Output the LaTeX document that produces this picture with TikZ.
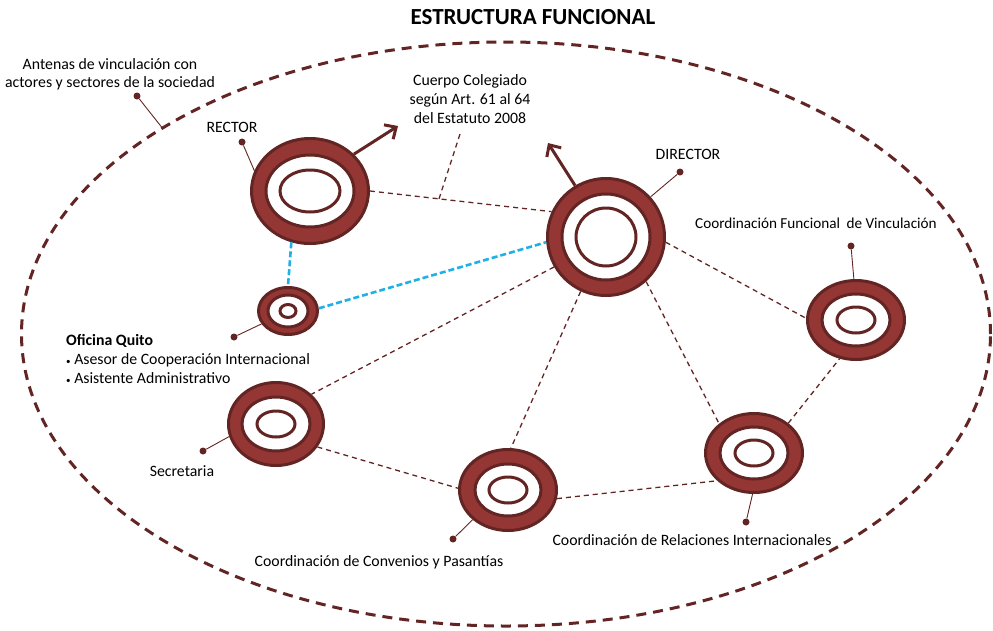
\documentclass[tikz,border=0pt]{standalone}
\usepackage{fontspec}
\setmainfont{Carlito}
\usetikzlibrary{shapes.geometric,arrows.meta}

\definecolor{rojo}{HTML}{943634}
\definecolor{oscuro}{HTML}{632523}
\definecolor{celeste}{HTML}{1FB0E8}

\tikzset{
  anillo/.style={ellipse, draw=oscuro, line width=3pt, fill=rojo, inner sep=0pt},
  blanco/.style={draw=oscuro, line width=3pt, fill=white},
  centro/.style={draw=oscuro, line width=3pt},
  enlace/.style={draw=oscuro, line width=1.3pt, dash pattern=on 5pt off 4pt},
  azul/.style={draw=celeste, line width=2.6pt, dash pattern=on 6pt off 3pt},
  pin/.style={draw=oscuro, line width=0.9pt},
  punto/.style={circle, fill=oscuro, inner sep=0pt, minimum size=7pt},
  etiqueta/.style={font=\fontsize{15.8}{18}\selectfont, inner sep=0pt},
  flecha/.style={draw=oscuro, line width=3pt, -{Straight Barb[length=9pt,width=17pt]}}
}

\begin{document}
\begin{tikzpicture}[x=1pt,y=-1pt]
\useasboundingbox (0,0) rectangle (993,630);

\node[font=\fontsize{23}{25}\selectfont\bfseries] (titulo) at (533,17) {ESTRUCTURA FUNCIONAL};

% entorno
\node[ellipse, draw=oscuro, line width=3pt, dash pattern=on 10pt off 7pt,
      minimum width=969, minimum height=584, inner sep=0pt] (entorno) at (506,334) {};

% anillos
\node[anillo, minimum width=117, minimum height=105] (rector) at (310,191) {};
\draw[blanco] (rector) ellipse [x radius=44, y radius=36];
\draw[centro] (rector) ellipse [x radius=30, y radius=21];

\node[anillo, minimum width=117, minimum height=117] (director) at (606,237) {};
\draw[blanco] (director) ellipse [x radius=44, y radius=43];
\draw[centro] (director) ellipse [x radius=30, y radius=29];

\node[anillo, minimum width=59, minimum height=47] (oficina) at (288,311) {};
\draw[blanco] (oficina) ellipse [x radius=20, y radius=16];
\draw[centro] (oficina) ellipse [x radius=8, y radius=6.5];

\node[anillo, minimum width=95, minimum height=83] (secretaria) at (276,424) {};
\draw[blanco] (secretaria) ellipse [x radius=34, y radius=27];
\draw[centro] (secretaria) ellipse [x radius=19, y radius=13];

\node[anillo, minimum width=97, minimum height=81] (convenios) at (508,490) {};
\draw[blanco] (convenios) ellipse [x radius=33, y radius=26];
\draw[centro] (convenios) ellipse [x radius=19, y radius=13];

\node[anillo, minimum width=97, minimum height=79] (relaciones) at (754,453) {};
\draw[blanco] (relaciones) ellipse [x radius=34, y radius=26];
\draw[centro] (relaciones) ellipse [x radius=19, y radius=13];

\node[anillo, minimum width=97, minimum height=79] (vinculacion) at (856,320) {};
\draw[blanco] (vinculacion) ellipse [x radius=34, y radius=26];
\draw[centro] (vinculacion) ellipse [x radius=19, y radius=13];

% enlaces
\draw[enlace] (rector.0) -- (director.155) coordinate[pos=0.38] (junta);
\coordinate (cuerpopie) at (460,134);
\draw[enlace] (junta) -- (cuerpopie);
\draw[enlace] (director.355) -- (vinculacion.178);
\draw[enlace] (director.-48) -- (relaciones.140);
\draw[enlace] (director.245) -- (convenios.86);
\draw[enlace] (director.210) -- (secretaria.40);
\draw[enlace] (secretaria.-29) -- (convenios.178);
\draw[enlace] (convenios.-10) -- (relaciones.217);
\draw[enlace] (relaciones.41) -- (vinculacion.247);

\draw[azul] (rector.250) -- (oficina.90);
\draw[azul] (oficina.5) -- (director.185);

\draw[flecha] (rector.40) -- (398,126);
\draw[flecha] (director.121) -- (548,143);

% textos
\node[etiqueta, align=center] (antenas) at (110,74) {Antenas de vinculación con\\actores y sectores de la sociedad};
\node[etiqueta] (rectortxt) at (232,127) {RECTOR};
\node[etiqueta, align=center, font=\fontsize{15.8}{19}\selectfont] (cuerpo) at (470,99) {Cuerpo Colegiado\\según Art. 61 al 64\\del Estatuto 2008};
\node[etiqueta] (directortxt) at (688,154) {DIRECTOR};
\node[etiqueta, font=\fontsize{15.2}{18}\selectfont] (vinculaciontxt) at (816,223) {Coordinación Funcional\hspace{0.2em} de Vinculación};
\node[etiqueta, align=left, anchor=west, font=\fontsize{15.8}{19}\selectfont] (oficinatxt) at (66,359)
  {\textbf{Oficina Quito}\\{\small•} Asesor de Cooperación Internacional\\{\small•} Asistente Administrativo};
\node[etiqueta] (secretariatxt) at (182,471) {Secretaria};
\node[etiqueta] (conveniostxt) at (379,562) {Coordinación de Convenios y Pasantías};
\node[etiqueta] (relacionestxt) at (692,540) {Coordinación de Relaciones Internacionales};

% marcas
\node[punto] (pinantenas) at (137,96) {};
\draw[pin] (pinantenas) -- (entorno.149);
\node[punto] (pinrector) at (242,142) {};
\draw[pin] (pinrector) -- (rector.160);
\node[punto] (pindirector) at (680,172) {};
\draw[pin] (pindirector) -- (director.42);
\node[punto] (pinvinculacion) at (851,246) {};
\draw[pin] (pinvinculacion) -- (vinculacion.93);
\node[punto] (pinoficina) at (234,337) {};
\draw[pin] (pinoficina) -- (oficina.206);
\node[punto] (pinsecretaria) at (203,451) {};
\draw[pin] (pinsecretaria) -- (secretaria.195);
\node[punto] (pinconvenios) at (453,539) {};
\draw[pin] (pinconvenios) -- (convenios.220);
\node[punto] (pinrelaciones) at (746,522) {};
\draw[pin] (pinrelaciones) -- (relaciones.268);
\end{tikzpicture}
\end{document}
